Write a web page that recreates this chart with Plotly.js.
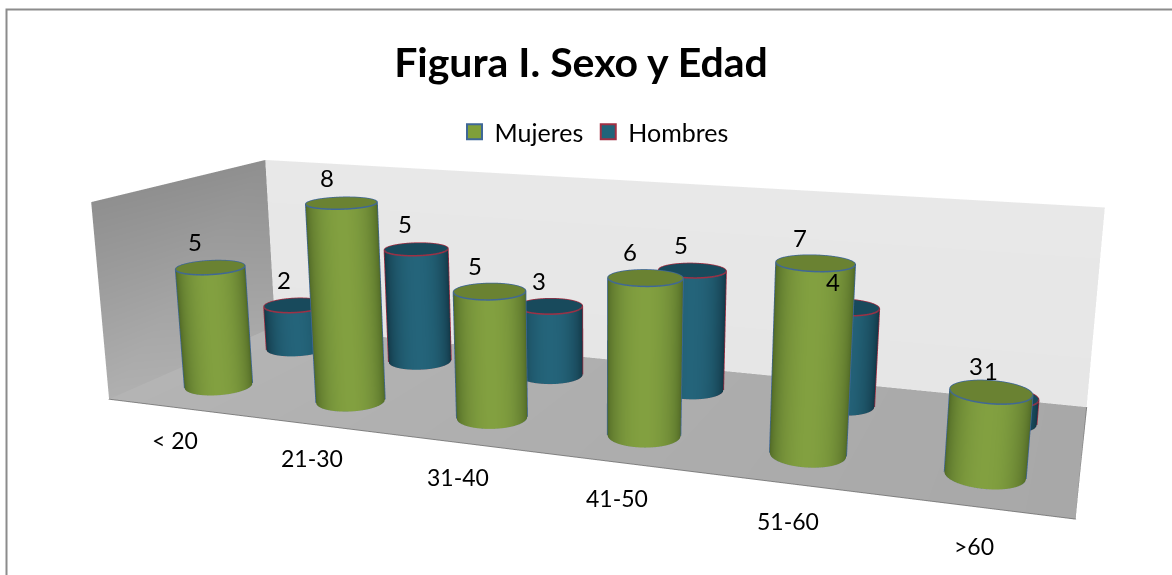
<!DOCTYPE html>
<html>
<head>
<meta charset="utf-8">
<script src="https://cdn.plot.ly/plotly-3.0.1.min.js"></script>
<style>
html,body{margin:0;padding:0;background:#fff;overflow:hidden;width:1172px;height:575px}
#wrap{position:absolute;left:0;top:0;width:1172px;height:575px;overflow:hidden}
/* the plot is larger than the window so that the 3d camera gets a longer focal length */
#chart{position:absolute;left:0;top:-267px;width:1212px;height:1186px}
</style>
</head>
<body>
<div id="wrap"><div id="chart"></div></div>
<script>
const categories = ["< 20", "21-30", "31-40", "41-50", "51-60", ">60"];
const mujeres = [5, 8, 5, 6, 7, 3];
const hombres = [2, 5, 3, 5, 4, 1];

const W = 1212, H = 1186, TOP = 267;
const paperX = (x) => x / W;
const paperY = (y) => 1 - (y + TOP) / H;

// side colours: [at the rim, in the middle] as seen from the camera
const sideMujeres = [[76, 100, 36], [130, 160, 64]], capMujeres = "#6a8232", edgeMujeres = "#3f6797";
const sideHombres = [[16, 50, 64], [36, 100, 122]], capHombres = "#184a5c", edgeHombres = "#a03044";
const radius = 0.22;
// where the camera stands, in axis units; used for shading and outline of each cylinder
const eyeX = 5.52, eyeY = -7.85;

const flat = {ambient: 1, diffuse: 0, specular: 0, fresnel: 0};

function shade(colors, t) {
    const c = colors[0].map((v, n) => Math.round(v + (colors[1][n] - v) * t));
    return "rgb(" + c.join(",") + ")";
}

function cylinder(cx, cy, h, sideColors, capColor, edgeColor, out) {
    const n = 60;
    const x = [], y = [], z = [], i = [], j = [], k = [], vertexcolor = [];
    const capX = [cx], capY = [cy], capZ = [h], ci = [], cj = [], ck = [];
    const ringX = [], ringY = [];
    const dx = eyeX - cx, dy = eyeY - cy, d = Math.hypot(dx, dy);
    for (let a = 0; a <= n; a++) {
        const t = 2 * Math.PI * a / n;
        const px = cx + radius * Math.cos(t), py = cy + radius * Math.sin(t);
        x.push(px, px); y.push(py, py); z.push(0, h);
        const facing = Math.max(0, (Math.cos(t) * dx + Math.sin(t) * dy) / d);
        const col = shade(sideColors, Math.pow(facing, 1.2));
        vertexcolor.push(col, col);
        capX.push(px); capY.push(py); capZ.push(h);
        ringX.push(px); ringY.push(py);
        if (a < n) {
            i.push(2 * a, 2 * a + 1);
            j.push(2 * a + 2, 2 * a + 2);
            k.push(2 * a + 1, 2 * a + 3);
            ci.push(0); cj.push(a + 1); ck.push(a + 2);
        }
    }
    out.push({type: "mesh3d", x, y, z, i, j, k, vertexcolor,
        showlegend: false, hoverinfo: "skip", lighting: flat});
    out.push({type: "mesh3d", x: capX, y: capY, z: capZ, i: ci, j: cj, k: ck, color: capColor,
        showlegend: false, hoverinfo: "skip", lighting: flat});
    const line = {color: edgeColor, width: 3};
    out.push({type: "scatter3d", mode: "lines", x: ringX, y: ringY, z: ringX.map(() => h),
        line, showlegend: false, hoverinfo: "skip"});
    out.push({type: "scatter3d", mode: "lines", x: ringX, y: ringY, z: ringX.map(() => 0),
        line, showlegend: false, hoverinfo: "skip"});
    // the two vertical edges seen from the camera
    [1, -1].forEach((s) => {
        const ex = cx + s * radius * dy / d, ey = cy - s * radius * dx / d;
        out.push({type: "scatter3d", mode: "lines", x: [ex, ex], y: [ey, ey], z: [0, h],
            line: {color: edgeColor, width: 3}, showlegend: false, hoverinfo: "skip"});
    });
}

function quad(x, y, z, vertexcolor) {
    return {type: "mesh3d", x, y, z, i: [0, 0], j: [1, 2], k: [2, 3], vertexcolor,
        showlegend: false, hoverinfo: "skip", lighting: flat};
}

// walls sit a hair inside the axis range, on the range limit they get clipped in stripes
const traces = [
    quad([-0.5, 5.5, 5.5, -0.5], [-0.5, -0.5, 1.5, 1.5], [0.002, 0.002, 0.002, 0.002], ["#b4b4b4", "#a8a8a8", "#a8a8a8", "#b4b4b4"]),
    quad([-0.5, 5.5, 5.5, -0.5], [1.497, 1.497, 1.497, 1.497], [0, 0, 7.99, 7.99], ["#e6e6e6", "#e6e6e6", "#e8e8e8", "#e8e8e8"]),
    quad([-0.497, -0.497, -0.497, -0.497], [-0.5, 1.5, 1.5, -0.5], [0, 0, 7.99, 7.99], ["#b0b0b0", "#a8a8a8", "#8f8f8f", "#8f8f8f"]),
    {type: "scatter3d", mode: "lines", x: [-0.5, 5.5, 5.5], y: [-0.5, -0.5, 1.5], z: [0.002, 0.002, 0.002],
        line: {color: "#808080", width: 2}, showlegend: false, hoverinfo: "skip"}
];
categories.forEach((c, n) => {
    cylinder(n, 1, hombres[n], sideHombres, capHombres, edgeHombres, traces);
});
categories.forEach((c, n) => {
    cylinder(n, 0, mujeres[n], sideMujeres, capMujeres, edgeMujeres, traces);
});
// legend entries only, nothing to plot
traces.push({type: "scatter", x: [null], y: [null], mode: "markers", name: "Mujeres",
    marker: {symbol: "square", size: 15, color: "#7f9f3a", line: {color: edgeMujeres, width: 2}}});
traces.push({type: "scatter", x: [null], y: [null], mode: "markers", name: "Hombres",
    marker: {symbol: "square", size: 15, color: "#20647a", line: {color: edgeHombres, width: 2}}});

const annotations = [];
const labelFont = {family: "Lato, sans-serif", size: 24, color: "#000"};
categories.forEach((c, n) => {
    annotations.push({x: n, y: 0, z: mujeres[n], text: String(mujeres[n]), showarrow: false,
        xshift: -15, yshift: 26, font: labelFont});
    annotations.push({x: n, y: 1, z: hombres[n], text: String(hombres[n]), showarrow: false,
        xshift: -11, yshift: 26, font: labelFont});
    annotations.push({x: n + 0.39 - 0.07 * n, y: -1.03, z: 0, text: c, showarrow: false,
        font: {family: "Lato, sans-serif", size: 23, color: "#000"}});
});

const hidden = {visible: false, showgrid: false, zeroline: false, showticklabels: false,
    showspikes: false, showbackground: false, showline: false, title: {text: ""}};

const layout = {
    width: W, height: H,
    margin: {l: 0, r: 0, t: 0, b: 0},
    paper_bgcolor: "#fff",
    font: {family: "Lato, sans-serif", color: "#000"},
    title: {text: "<b>Figura I. Sexo y Edad</b>", font: {size: 41, family: "Lato, sans-serif"},
        x: paperX(581), xanchor: "center", y: paperY(63), yanchor: "middle"},
    showlegend: true,
    legend: {orientation: "h", x: paperX(594), xanchor: "center", y: paperY(132), yanchor: "middle",
        font: {size: 25}, bgcolor: "rgba(0,0,0,0)"},
    xaxis: {visible: false, domain: [0, 0.001]},
    yaxis: {visible: false, domain: [0, 0.001]},
    scene: {
        domain: {x: [0, 1], y: [0, 1]},
        aspectmode: "manual",
        aspectratio: {x: 2.117, y: 1.4, z: 0.458},
        xaxis: Object.assign({range: [-0.5, 5.5]}, hidden),
        yaxis: Object.assign({range: [-2.5, 1.5]}, hidden),
        zaxis: Object.assign({range: [0, 8]}, hidden),
        camera: {
            eye: {x: 1.064, y: -2.5735, z: 0.771},
            center: {x: 0.029, y: 0.3475, z: -0.044},
            up: {x: -0.0866, y: 0.2395, z: 0.9671},
            projection: {type: "perspective"}
        },
        annotations
    },
    shapes: [{type: "rect", xref: "paper", yref: "paper", x0: paperX(6.5), x1: paperX(1200),
        y0: paperY(600), y1: paperY(9.5), line: {color: "#8c8c8c", width: 2}}]
};

Plotly.newPlot("chart", traces, layout, {displayModeBar: false});
</script>
</body>
</html>
